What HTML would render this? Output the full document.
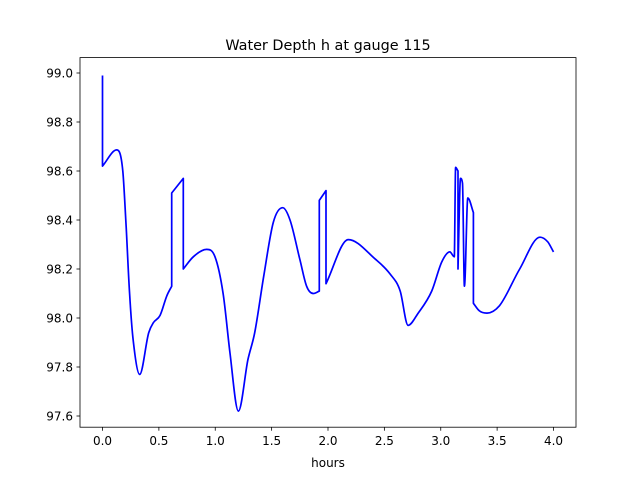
<!DOCTYPE html>
<html><head><meta charset="utf-8"><style>
body{margin:0;background:#fff;font-family:"Liberation Sans","DejaVu Sans",sans-serif}
</style></head><body>
<svg id="chart" width="640" height="480" xmlns="http://www.w3.org/2000/svg" font-family="DejaVu Sans, Liberation Sans, sans-serif">
<rect width="640" height="480" fill="#fff"/>
<text x="328" y="50" text-anchor="middle" font-size="14.4">Water Depth h at gauge 115</text>
<text x="328" y="467" text-anchor="middle" font-size="12">hours</text>
<g id="ticks"></g>
<path id="line" fill="none" stroke="#0000ff" stroke-width="1.7" stroke-linejoin="round"/>
<rect x="80" y="57.6" width="496" height="369.6" fill="none" stroke="#000" stroke-width="0.8"/>
</svg>
<script>
const times=[0,0,0.126,0.18,0.21,0.24,0.27,0.33,0.41,0.45,0.51,0.57,0.614,0.614,0.717,0.717,0.805,0.924,0.998,1.07,1.13,1.205,1.29,1.35,1.43,1.515,1.598,1.663,1.75,1.81,1.87,1.923,1.923,1.982,1.982,2.18,2.42,2.55,2.64,2.71,2.80,2.92,3.01,3.08,3.12,3.132,3.153,3.153,3.175,3.193,3.21,3.24,3.29,3.29,3.34,3.41,3.52,3.70,3.88,3.95,4.0];
const depths=[98.99,98.62,98.686,98.60,98.37,98.10,97.92,97.77,97.94,97.98,98.01,98.09,98.13,98.51,98.57,98.20,98.25,98.28,98.25,98.10,97.86,97.62,97.83,97.94,98.17,98.39,98.45,98.40,98.24,98.13,98.10,98.11,98.48,98.52,98.14,98.32,98.24,98.18,98.11,97.97,98.02,98.11,98.23,98.27,98.25,98.615,98.60,98.20,98.57,98.55,98.13,98.49,98.43,98.06,98.03,98.02,98.05,98.20,98.33,98.31,98.27];
const xTicks=[0,0.5,1,1.5,2,2.5,3,3.5,4];
const yTicks=[97.6,97.8,98.0,98.2,98.4,98.6,98.8,99.0];
const sx=t=>102.5+t*112.75;
const sy=h=>73-(h-99.0)*245;
const NS='http://www.w3.org/2000/svg';
const g=document.getElementById('ticks');
function mk(tag,attrs){const e=document.createElementNS(NS,tag);for(const k in attrs)e.setAttribute(k,attrs[k]);return e;}
xTicks.forEach(t=>{
  const l=mk('line',{x1:sx(t),x2:sx(t),y1:427.2,y2:430.7,stroke:'#000','stroke-width':0.8});
  
  
  g.appendChild(l);
  const tx=mk('text',{x:sx(t),y:445,'text-anchor':'middle','font-size':12});
  
  
  tx.textContent=t.toFixed(1);g.appendChild(tx);
});
yTicks.forEach(v=>{
  const l=mk('line',{x1:76.5,x2:80,y1:sy(v),y2:sy(v),stroke:'#000','stroke-width':0.8});
  
  
  g.appendChild(l);
  const tx=mk('text',{x:73,y:sy(v)+4.3,'text-anchor':'end','font-size':12});
  
  
  tx.textContent=v.toFixed(1);g.appendChild(tx);
});
// split into runs of strictly increasing time; smooth each with monotone cubic
const P=times.map((t,i)=>[sx(t),sy(depths[i])]);
const runs=[];let cur=[P[0]];
for(let i=1;i<P.length;i++){if(times[i]>times[i-1]){cur.push(P[i]);}else{runs.push(cur);cur=[P[i]];}}
runs.push(cur);
let d='';
runs.forEach((r,ri)=>{
  d+=(ri===0?'M':'L')+r[0][0].toFixed(1)+','+r[0][1].toFixed(1);
  const n=r.length;if(n<2)return;
  const dx=[],s=[];
  for(let i=0;i<n-1;i++){dx.push(r[i+1][0]-r[i][0]);s.push((r[i+1][1]-r[i][1])/dx[i]);}
  const m=new Array(n);
  m[0]=s[0];m[n-1]=s[n-2];
  for(let i=1;i<n-1;i++){m[i]=(s[i-1]*s[i]<=0)?0:(s[i-1]+s[i])/2;}
  for(let i=0;i<n-1;i++){
    if(s[i]===0){m[i]=0;m[i+1]=0;continue;}
    const a=m[i]/s[i],b=m[i+1]/s[i],h=a*a+b*b;
    if(h>9){const tt=3/Math.sqrt(h);m[i]=tt*a*s[i];m[i+1]=tt*b*s[i];}
  }
  for(let i=0;i<n-1;i++){
    const h=dx[i];
    const c1=[r[i][0]+h/3,r[i][1]+m[i]*h/3];
    const c2=[r[i+1][0]-h/3,r[i+1][1]-m[i+1]*h/3];
    d+='C'+c1[0].toFixed(1)+','+c1[1].toFixed(1)+' '+c2[0].toFixed(1)+','+c2[1].toFixed(1)+' '+r[i+1][0].toFixed(1)+','+r[i+1][1].toFixed(1);
  }
});
document.getElementById('line').setAttribute('d',d);
</script>
</body></html>
